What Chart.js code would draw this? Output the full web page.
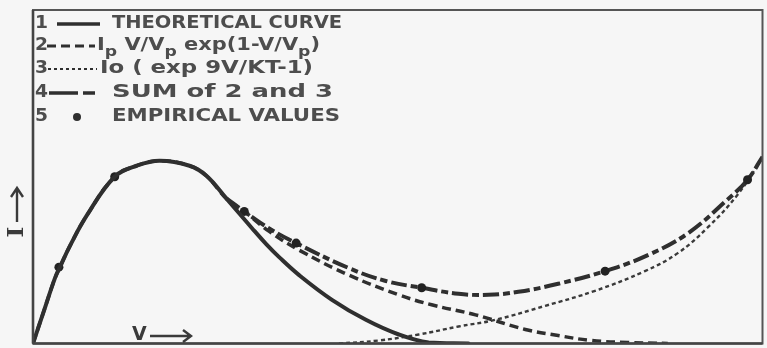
<!DOCTYPE html>
<html>
<head>
<meta charset="utf-8">
<script src="https://cdn.jsdelivr.net/npm/chart.js@4.4.1/dist/chart.umd.min.js"></script>
<style>
  html, body { margin: 0; padding: 0; background: #f6f6f6; }
  #wrap { width: 767px; height: 348px; position: relative; }
</style>
</head>
<body>
<div id="wrap"><canvas id="c"></canvas></div>
<script>
// Tunnel diode current–voltage characteristic (arbitrary units, 0–100 on both axes)

// 1: theoretical curve
const theoreticalV = [0, 1.5, 3.01, 3.69, 5.05, 7.38, 11.2, 14.21, 17.35, 21.45, 23.77, 26.5, 30.05, 31.97, 33.74, 36.48, 40.98, 45.63, 50.14, 54.23, 59.7];
const theoreticalI = [0, 9.8, 19.6, 22.9, 29.2, 38.4, 50.0, 53.3, 54.8, 53.3, 50.3, 43.5, 34.5, 29.8, 25.9, 20.5, 13.1, 7.1, 2.7, 0.3, 0];

// 2: tunnel component  Ip V/Vp exp(1 - V/Vp)
const tunnelV = [0, 1.5, 3.01, 3.69, 5.05, 7.38, 11.2, 14.21, 17.35, 21.45, 23.77, 26.5, 28.96, 32.38, 36.48, 43.31, 50.14, 54.64, 60.66, 67.49, 71.99, 76.5, 81.56, 87.02];
const tunnelI = [0, 9.8, 19.6, 22.9, 29.2, 38.4, 50.0, 53.3, 54.8, 53.3, 50.3, 43.5, 39.6, 33.6, 28.0, 20.5, 14.6, 11.6, 8.6, 4.2, 2.4, 0.9, 0.3, 0];

// 3: diode component  Io (exp qV/kT - 1)
const diodeV = [41.94, 47.4, 52.87, 58.33, 63.39, 70.22, 77.05, 83.88, 88.39, 92.49, 96.58, 100];
const diodeI = [0, 0.9, 2.7, 5.1, 7.1, 11.3, 15.8, 21.7, 27.1, 34.8, 44.6, 55.7];

// 4: sum of 2 and 3
const sumV = [26.5, 28.96, 32.38, 36.07, 43.31, 48.36, 53.28, 58.33, 62.43, 66.53, 71.99, 78.42, 84.29, 89.75, 95.22, 97.95, 100];
const sumI = [43.5, 39.6, 34.5, 30.1, 22.6, 18.75, 16.7, 14.9, 14.6, 15.5, 17.9, 21.7, 26.5, 33.0, 43.2, 49.1, 56.0];

// 5: measured points
const empiricalV = [3.55, 11.2, 28.96, 36.07, 53.28, 78.42, 97.95];
const empiricalI = [22.9, 50.0, 39.6, 30.1, 16.7, 21.7, 49.1];

// key entries
const keyNumbers = ['1', '2', '3', '4', '5'];
const keyTexts = ['THEORETICAL CURVE', 'Ip V/Vp exp(1-V/Vp)', 'Io ( exp 9V/KT-1)', 'SUM of 2 and 3', 'EMPIRICAL VALUES'];

const toPoints = (xs, ys) => xs.map((x, i) => ({ x, y: ys[i] }));

const INK = '#2f2f2f';
const TEXT = '#4d4d4d';

// draws text stretched horizontally so that it spans the given width
function wideText(ctx, txt, x, y, width) {
  const w = ctx.measureText(txt).width;
  ctx.save();
  ctx.translate(x, y);
  ctx.scale(width / w, 1);
  ctx.fillText(txt, 0, 0);
  ctx.restore();
}

const framePlugin = {
  id: 'frameAndKey',
  beforeDraw(chart) {
    const { ctx, width, height } = chart;
    ctx.save();
    ctx.fillStyle = '#f6f6f6';
    ctx.fillRect(0, 0, width, height);
    ctx.restore();
  },
  afterDraw(chart) {
    const { ctx, chartArea: a } = chart;
    ctx.save();

    // frame
    ctx.strokeStyle = '#555';
    ctx.lineWidth = 2;
    ctx.strokeRect(a.left, a.top, a.right - a.left, a.bottom - a.top);
    ctx.lineWidth = 2.6;
    ctx.strokeStyle = '#444';
    ctx.beginPath();
    ctx.moveTo(a.left, a.top); ctx.lineTo(a.left, a.bottom);
    ctx.moveTo(a.left, a.bottom); ctx.lineTo(a.right, a.bottom);
    ctx.stroke();

    // key
    const rowY = [24, 46, 69, 93, 117];
    const textX = [112, 97, 100, 112, 112];
    const textEnd = [342, 320, 313, 333, 340];
    const font = 'bold 17px "DejaVu Sans"';
    ctx.fillStyle = TEXT;
    ctx.textBaseline = 'middle';
    ctx.textAlign = 'left';
    ctx.font = font;

    keyNumbers.forEach((n, i) => wideText(ctx, n, 35, rowY[i], ctx.measureText(n).width * 1.1));

    // plain rows
    [0, 2, 3, 4].forEach(i => {
      wideText(ctx, keyTexts[i], textX[i], rowY[i], textEnd[i] - textX[i]);
    });

    // row 2 with subscripts
    const pieces = [['I', false], ['p', true], [' V/V', false], ['p', true], [' exp(1-V/V', false], ['p', true], [')', false]];
    const subFont = 'bold 14px "DejaVu Sans"';
    let natural = 0;
    pieces.forEach(([t, sub]) => { ctx.font = sub ? subFont : font; natural += ctx.measureText(t).width; });
    const k = (textEnd[1] - textX[1]) / natural;
    let x = textX[1];
    pieces.forEach(([t, sub]) => {
      ctx.font = sub ? subFont : font;
      const w = ctx.measureText(t).width * k;
      wideText(ctx, t, x, rowY[1] + (sub ? 6 : 0), w);
      x += w;
    });

    // key line samples
    ctx.strokeStyle = INK;
    ctx.lineCap = 'butt';
    ctx.lineWidth = 3.5;
    ctx.setLineDash([]);
    ctx.beginPath(); ctx.moveTo(57, rowY[0]); ctx.lineTo(100, rowY[0]); ctx.stroke();
    ctx.lineWidth = 3;
    ctx.setLineDash([9, 5]);
    ctx.beginPath(); ctx.moveTo(47, rowY[1]); ctx.lineTo(95, rowY[1]); ctx.stroke();
    ctx.lineWidth = 2.2;
    ctx.setLineDash([3, 3]);
    ctx.beginPath(); ctx.moveTo(48, rowY[2]); ctx.lineTo(97, rowY[2]); ctx.stroke();
    ctx.lineWidth = 3.5;
    ctx.setLineDash([]);
    ctx.beginPath(); ctx.moveTo(49, rowY[3]); ctx.lineTo(78, rowY[3]); ctx.moveTo(83, rowY[3]); ctx.lineTo(95, rowY[3]); ctx.stroke();
    ctx.fillStyle = INK;
    ctx.beginPath(); ctx.arc(77, rowY[4], 4, 0, Math.PI * 2); ctx.fill();

    // axis labels
    ctx.fillStyle = '#3a3a3a';
    ctx.font = 'bold 19px "DejaVu Sans"';
    ctx.textBaseline = 'middle';
    ctx.fillText('V', 132, 335);
    ctx.strokeStyle = '#3a3a3a';
    ctx.lineWidth = 2.4;
    ctx.beginPath();
    ctx.moveTo(150, 336); ctx.lineTo(191, 336);
    ctx.moveTo(183, 330); ctx.lineTo(191, 336); ctx.lineTo(183, 342);
    ctx.stroke();

    ctx.save();
    ctx.translate(17, 232);
    ctx.rotate(-Math.PI / 2);
    ctx.font = 'bold 23px "DejaVu Serif"';
    ctx.textAlign = 'center';
    ctx.fillText('I', 0, 0);
    ctx.restore();
    ctx.beginPath();
    ctx.moveTo(17, 222); ctx.lineTo(17, 188);
    ctx.moveTo(11, 197); ctx.lineTo(17, 188); ctx.lineTo(23, 197);
    ctx.stroke();

    ctx.restore();
  }
};

new Chart(document.getElementById('c'), {
  type: 'scatter',
  data: {
    datasets: [
      {
        label: 'THEORETICAL CURVE',
        data: toPoints(theoreticalV, theoreticalI),
        showLine: true, borderColor: INK, borderWidth: 4, pointRadius: 0,
        tension: 0.4, borderCapStyle: 'round'
      },
      {
        label: 'EMPIRICAL VALUES',
        data: toPoints(empiricalV, empiricalI),
        showLine: false, pointRadius: 4.5, pointBackgroundColor: '#222', pointBorderWidth: 0
      },
      {
        label: 'SUM of 2 and 3',
        data: toPoints(sumV, sumI),
        showLine: true, borderColor: INK, borderWidth: 4, pointRadius: 0,
        tension: 0.4, borderDash: [16, 4, 7, 4], borderCapStyle: 'butt'
      },
      {
        label: 'Ip V/Vp exp(1-V/Vp)',
        data: toPoints(tunnelV, tunnelI),
        showLine: true, borderColor: INK, borderWidth: 3.5, pointRadius: 0,
        tension: 0.4, borderDash: [9, 5], borderCapStyle: 'butt'
      },
      {
        label: 'Io (exp qV/kT - 1)',
        data: toPoints(diodeV, diodeI),
        showLine: true, borderColor: '#3a3a3a', borderWidth: 2.4, pointRadius: 0,
        tension: 0.4, borderDash: [4, 3], borderCapStyle: 'butt'
      }
    ]
  },
  options: {
    responsive: true,
    maintainAspectRatio: false,
    animation: false,
    layout: { padding: { left: 33, top: 10, right: 2, bottom: 2 } },
    plugins: { legend: { display: false }, tooltip: { enabled: false } },
    scales: {
      x: { type: 'linear', min: 0, max: 100, display: false },
      y: { type: 'linear', min: 0, max: 100, display: false }
    }
  },
  plugins: [framePlugin]
});
</script>
</body>
</html>
